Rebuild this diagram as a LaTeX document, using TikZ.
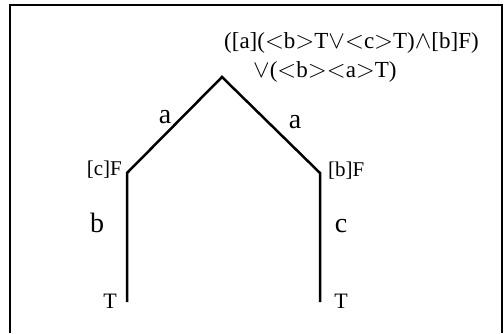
\documentclass[tikz,border=0pt]{standalone}
\usepackage{fontspec}
\setmainfont{Liberation Serif}
\newcommand{\bigor}{{\fontsize{30}{30}\selectfont$\vee$}}
\newcommand{\bigand}{{\fontsize{30}{30}\selectfont$\wedge$}}
\begin{document}
\begin{tikzpicture}[x=1pt,y=-1pt,
  frameline/.style={line width=1.8pt},
  branch/.style={line width=2.5pt,line join=miter},
  biglab/.style={inner sep=0pt,font=\fontsize{28}{30}\selectfont},
  smalllab/.style={inner sep=0pt,font=\fontsize{21}{22}\selectfont},
  leaflab/.style={inner sep=0pt,font=\fontsize{22}{24}\selectfont},
  formula/.style={inner sep=0pt,font=\fontsize{23}{26}\selectfont}]
\useasboundingbox (0,0) rectangle (504,333);
\coordinate (fbl) at (10,333);
\coordinate (ftl) at (10,5);
\coordinate (ftr) at (502,5);
\coordinate (fbr) at (502,333);
\draw[frameline] (fbl) -- (ftl) -- (ftr) -- (fbr);
\coordinate (top) at (222,77);
\coordinate (l1) at (127,173);
\coordinate (l2) at (127,302);
\coordinate (r1) at (320,173);
\coordinate (r2) at (320,302);
\draw[branch] (l2) -- (l1) -- (top) -- (r1) -- (r2);
\node[formula,anchor=base west] (f1) at (224,48) {([a](${<}$b${>}$T\bigor${<}$c${>}$T)\bigand[b]F)};
\node[formula,anchor=base west] (f2) at (253,77) {\bigor(${<}$b${>}{<}$a${>}$T)};
\node[biglab,anchor=base] (la) at (165,123) {a};
\node[biglab,anchor=base] (ra) at (295,128) {a};
\node[smalllab,anchor=base east] (lf) at (122,175) {[c]F};
\node[smalllab,anchor=base west] (rf) at (328,176) {[b]F};
\node[biglab,anchor=base] (lb) at (97,232) {b};
\node[biglab,anchor=base] (rc) at (341,232) {c};
\node[leaflab,anchor=base] (lt) at (110,308) {T};
\node[leaflab,anchor=base] (rt) at (341,308) {T};
\end{tikzpicture}
\end{document}
